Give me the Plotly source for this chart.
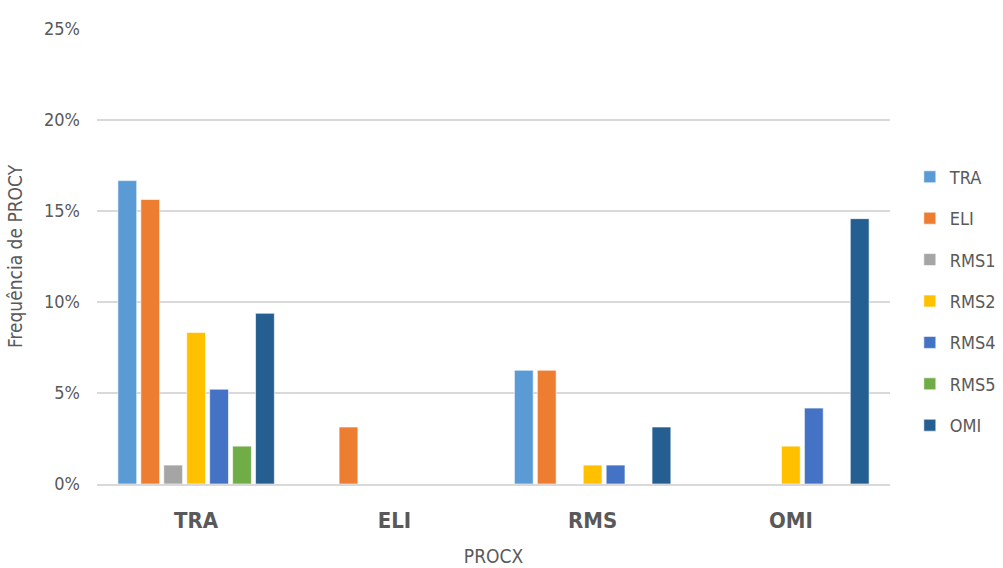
import plotly.graph_objects as go

# Grouped frequencies of PROCY within each PROCX category (percent)
categories = ["TRA", "ELI", "RMS", "OMI"]
series_names = ["TRA", "ELI", "RMS1", "RMS2", "RMS4", "RMS5", "OMI"]
tra_vals = [16.67, None, 6.25, None]
eli_vals = [15.63, 3.13, 6.25, None]
rms1_vals = [1.04, None, None, None]
rms2_vals = [8.33, None, 1.04, 2.08]
rms4_vals = [5.21, None, 1.04, 4.17]
rms5_vals = [2.08, None, None, None]
omi_vals = [9.38, None, 3.13, 14.58]

series_values = [tra_vals, eli_vals, rms1_vals, rms2_vals, rms4_vals, rms5_vals, omi_vals]
colors = ["#5B9BD5", "#ED7D31", "#A5A5A5", "#FFC000", "#4472C4", "#70AD47", "#255E91"]

FONT = "DejaVu Sans Condensed, DejaVu Sans, sans-serif"

fig = go.Figure()
for name, vals, col in zip(series_names, series_values, colors):
    fig.add_trace(go.Bar(
        name=name,
        x=categories,
        y=[v if v is not None else 0 for v in vals],
        marker=dict(color=col, line=dict(color="rgba(255,255,255,0.6)", width=1)),
        legendgroup=name,
    ))

fig.update_layout(
    width=1003, height=568,
    margin=dict(l=97, r=113, t=29, b=84, autoexpand=False),
    paper_bgcolor="white", plot_bgcolor="white",
    barmode="group", bargap=0.19, bargroupgap=0.18,
    font=dict(family=FONT, color="#595959", size=18),
    legend=dict(
        x=1.025, y=0.402, xanchor="left", yanchor="middle",
        font=dict(size=18, color="#595959", family=FONT),
        tracegroupgap=15, itemwidth=30,
    ),
    xaxis=dict(
        title=dict(text="PROCX", font=dict(size=19, color="#595959"), standoff=17),
        tickfont=dict(size=22, color="#595959", family=FONT, weight="bold"),
        ticklabelstandoff=16,
        showline=True, linecolor="#D9D9D9", linewidth=2,
        showgrid=False,
    ),
    yaxis=dict(
        title=dict(text="Frequência de PROCY", font=dict(size=19, color="#595959"), standoff=16),
        range=[0, 25], dtick=5, ticksuffix="%",
        tickfont=dict(size=18, color="#595959"),
        gridcolor="#D9D9D9", gridwidth=2,
        zeroline=False, showline=False,
        ticklabelstandoff=16,
    ),
)

fig.write_html("out.html")
